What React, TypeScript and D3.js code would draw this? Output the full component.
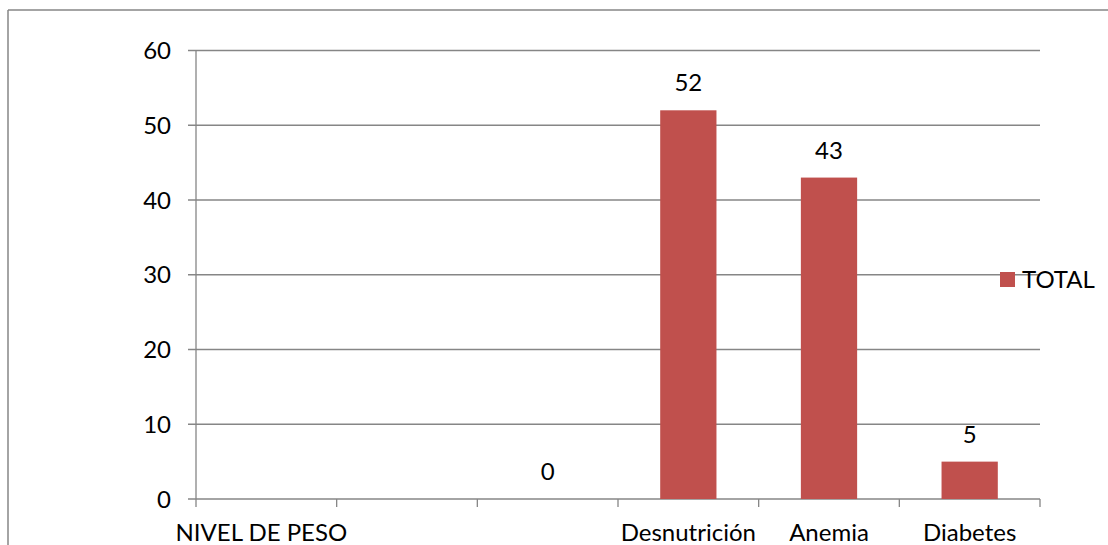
import React from "react";
import * as d3 from "d3";

const categories: string[] = ["NIVEL DE PESO", "", "", "Desnutrición", "Anemia", "Diabetes"];
const totals: (number | null)[] = [null, null, 0, 52, 43, 5];
const yTicks: number[] = [0, 10, 20, 30, 40, 50, 60];
const seriesName = "TOTAL";

const W = 1108;
const H = 545;
const FONT = "Lato, 'Open Sans', sans-serif";
const FS = 24;

export default function App() {
  const x = d3
    .scaleBand<number>()
    .domain(categories.map((_, i) => i))
    .range([196, 1040])
    .paddingInner(0)
    .paddingOuter(0);
  const y = d3.scaleLinear().domain([0, 60]).range([499, 50.5]);
  const bw = x.bandwidth() / 2.5;
  const grid = "#868686";
  const barColor = "#C0504D";

  return (
    <>
      <style>{`body{margin:0}`}</style>
      <svg width={W} height={H} style={{ display: "block", fontFamily: FONT }}>
        <rect x={0} y={0} width={W} height={H} fill="#fff" />
        {/* outer border */}
        <line x1={8} x2={W} y1={10} y2={10} stroke={grid} strokeWidth={1.5} />
        <line x1={8} x2={8} y1={10} y2={H} stroke={grid} strokeWidth={1.5} />
        {/* gridlines & y ticks */}
        {yTicks.map((t) => (
          <g key={t}>
            <line x1={188} x2={1040} y1={y(t)} y2={y(t)} stroke={grid} strokeWidth={1.3} />
            <text x={171} y={y(t)} dy="0.36em" textAnchor="end" fontSize={FS} fill="#000">
              {t}
            </text>
          </g>
        ))}
        {/* y axis */}
        <line x1={196} x2={196} y1={y(60)} y2={y(0)} stroke={grid} strokeWidth={1.3} />
        {/* x ticks */}
        {d3.range(categories.length + 1).map((i) => {
          const xx = 196 + i * x.step();
          return <line key={i} x1={xx} x2={xx} y1={y(0)} y2={y(0) + 8} stroke={grid} strokeWidth={1.3} />;
        })}
        {/* bars */}
        {totals.map((v, i) =>
          v === null ? null : (
            <g key={i}>
              {v > 0 && (
                <rect
                  x={(x(i) as number) + x.bandwidth() / 2 - bw / 2}
                  y={y(v)}
                  width={bw}
                  height={y(0) - y(v)}
                  fill={barColor}
                />
              )}
              <text
                x={(x(i) as number) + x.bandwidth() / 2}
                y={y(v) - 19}
                textAnchor="middle"
                fontSize={FS}
                fill="#000"
              >
                {v}
              </text>
            </g>
          )
        )}
        {/* category labels */}
        {categories.map((c, i) => (
          <text
            key={i}
            x={(x(i) as number) + x.bandwidth() / 2 - (i === 0 ? 5 : 0)}
            y={541}
            textAnchor="middle"
            fontSize={FS}
            fill="#000"
          >
            {c}
          </text>
        ))}
        {/* legend */}
        <rect x={1000} y={272} width={15} height={15} fill={barColor} />
        <text x={1022} y={287.5} fontSize={FS} fill="#000">
          {seriesName}
        </text>
      </svg>
    </>
  );
}
